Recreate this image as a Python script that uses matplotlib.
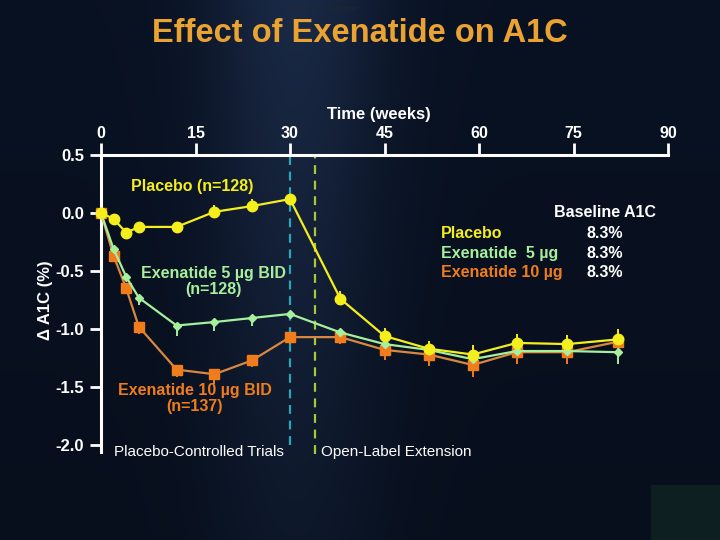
import numpy as np
import matplotlib
matplotlib.use("Agg")
import matplotlib.pyplot as plt

# ---- data ----
weeks_pc = [0, 2, 4, 6, 12, 18, 24, 30, 38, 45, 52, 59, 66, 74, 82]
placebo = [0.0, -0.05, -0.17, -0.12, -0.12, 0.01, 0.06, 0.12, -0.74, -1.06, -1.17, -1.22, -1.12, -1.13, -1.09]
exe5 = [0.0, -0.31, -0.55, -0.73, -0.97, -0.94, -0.905, -0.87, -1.03, -1.13, -1.18, -1.26, -1.19, -1.19, -1.20]
exe10 = [0.0, -0.37, -0.65, -0.98, -1.35, -1.39, -1.27, -1.07, -1.07, -1.18, -1.22, -1.31, -1.20, -1.20, -1.11]
err_placebo = [0.0, 0.0, 0.0, 0.0, 0.0, 0.06, 0.06, 0.0, 0.07, 0.07, 0.07, 0.08, 0.08, 0.08, 0.09]
err_exe5 = [0.0, 0.0, 0.0, 0.06, 0.09, 0.08, 0.07, 0.0, 0.0, 0.0, 0.0, 0.0, 0.0, 0.0, 0.1]
err_exe10 = [0.0, 0.0, 0.0, 0.06, 0.06, 0.08, 0.06, 0.06, 0.06, 0.09, 0.1, 0.1, 0.1, 0.1, 0.1]
x_ticks = [0, 15, 30, 45, 60, 75, 90]
y_ticks = [0.5, 0.0, -0.5, -1.0, -1.5, -2.0]
y_tick_labels = ["0.5", "0.0", "-0.5", "-1.0", "-1.5", "-2.0"]
vlines = [30, 34]
baseline_groups = ["Placebo", "Exenatide  5 µg", "Exenatide 10 µg"]
baseline_values = ["8.3%", "8.3%", "8.3%"]

main = "Liberation Sans"

C_PL = "#f4ee1c"
C_5 = "#a6ef9c"
C_10 = "#f07c1c"
C_10L = "#d88840"
C_TITLE = "#eaa232"

fig = plt.figure(figsize=(7.2, 5.4), dpi=100)

# background gradient
bg = fig.add_axes([0, 0, 1, 1], zorder=-10)
W, H = 360, 270
xx = np.linspace(0, 1, W)
yy = np.linspace(0, 1, H)[:, None]
band = np.exp(-((xx - 0.41) / 0.12) ** 2)
base = np.array([0.035, 0.07, 0.135])
light = np.array([0.10, 0.16, 0.27])
img = base[None, None, :] + (light - base)[None, None, :] * (band[None, :, None] * (0.45 + 0.55 * (1 - yy[:, :, None])))
img = img * (0.85 + 0.15 * (1 - yy[:, :, None]))
bg.imshow(np.clip(img, 0, 1), aspect="auto", extent=[0, 1, 0, 1], origin="upper")
bg.add_patch(plt.Rectangle((651 / 720, 0), 69 / 720, 55 / 540, color="#0e1f22", transform=bg.transAxes))
bg.set_axis_off()

ax = fig.add_axes([101 / 720, 1 - 445 / 540, 567 / 720, 290 / 540])
ax.set_facecolor("none")
ax.set_xlim(0, 90)
ax.set_ylim(-2.0, 0.5)

for s in ["right", "bottom"]:
    ax.spines[s].set_visible(False)
for s in ["left", "top"]:
    ax.spines[s].set_color("white")
    ax.spines[s].set_linewidth(2.2)
ax.spines["left"].set_bounds(-2.06, 0.5)

ax.xaxis.tick_top()
ax.xaxis.set_label_position("top")
ax.set_xticks(x_ticks)
ax.set_xticklabels([str(v) for v in x_ticks], color="white", fontsize=11.5, fontweight="bold", fontfamily=main)
ax.tick_params(axis="x", direction="out", length=9, width=2, color="white", pad=1)
ax.set_yticks(y_ticks)
ax.set_yticklabels(y_tick_labels, color="white", fontsize=12, fontweight="bold", fontfamily=main)
ax.tick_params(axis="y", direction="out", length=8, width=2, color="white", pad=4)
ax.set_xlabel("Time (weeks)", color="white", fontsize=12, fontweight="bold", fontfamily=main, labelpad=0)
ax.xaxis.set_label_coords(0.49, 1.125)
ax.set_ylabel("Δ A1C (%)", color="white", fontsize=12, fontweight="bold", fontfamily=main, labelpad=2)

ax.axvline(vlines[0], color="#2aa6b8", ls=(0, (4, 3)), lw=1.6, ymin=0, ymax=1)
ax.axvline(vlines[1], color="#a8c838", ls=(0, (4, 3)), lw=1.6, ymin=-0.03, ymax=1, clip_on=False)

def series(y, err, color, lcolor, marker, ms, up):
    e = np.array(err)
    yerr = [np.zeros_like(e), e] if up else [e, np.zeros_like(e)]
    ax.errorbar(weeks_pc, y, yerr=yerr, fmt="none", ecolor=color, elinewidth=1.4, capsize=0, zorder=3)
    ax.plot(weeks_pc, y, color=lcolor, lw=1.6, marker=marker, ms=ms, mfc=color, mec=color, zorder=4, clip_on=False)

series(exe10, err_exe10, C_10, C_10L, "s", 7, False)
series(exe5, err_exe5, C_5, C_5, "D", 4.5, False)
series(placebo, err_placebo, C_PL, C_PL, "o", 7.5, True)

tk = dict(fontweight="bold", fontfamily=main, fontsize=11.5)
ax.text(14.5, 0.23, "Placebo (n=128)", color=C_PL, ha="center", va="center", **tk)
ax.text(17.9, -0.59, "Exenatide 5 µg BID\n(n=128)", color=C_5, ha="center", va="center", linespacing=1.1, **tk)
ax.text(14.9, -1.6, "Exenatide 10 µg BID\n(n=137)", color=C_10, ha="center", va="center", linespacing=1.1, **tk)
ax.text(15.6, -2.06, "Placebo-Controlled Trials", color="white", ha="center", va="center", fontsize=11, fontfamily=main)
ax.text(46.8, -2.06, "Open-Label Extension", color="white", ha="center", va="center", fontsize=11, fontfamily=main)

ax.text(80, 0.0, "Baseline A1C", color="white", ha="center", va="center", **tk)
bcol = [C_PL, C_5, C_10]
for i, (g, v) in enumerate(zip(baseline_groups, baseline_values)):
    yv = -0.18 - 0.165 * i
    ax.text(54.0, yv, g, color=bcol[i], ha="left", va="center", **tk)
    ax.text(80, yv, v, color="white", ha="center", va="center", **tk)

fig.text(0.5, 1 - 33 / 540, "Effect of Exenatide on A1C", color=C_TITLE, ha="center", va="center",
         fontsize=23.5, fontweight="bold", fontfamily=main)
fig.text(0.45, 1 - 9 / 540, "Effect of Exenatide", color="#222831", ha="center", va="center", fontsize=5)

fig.savefig("out.png", dpi=100)
